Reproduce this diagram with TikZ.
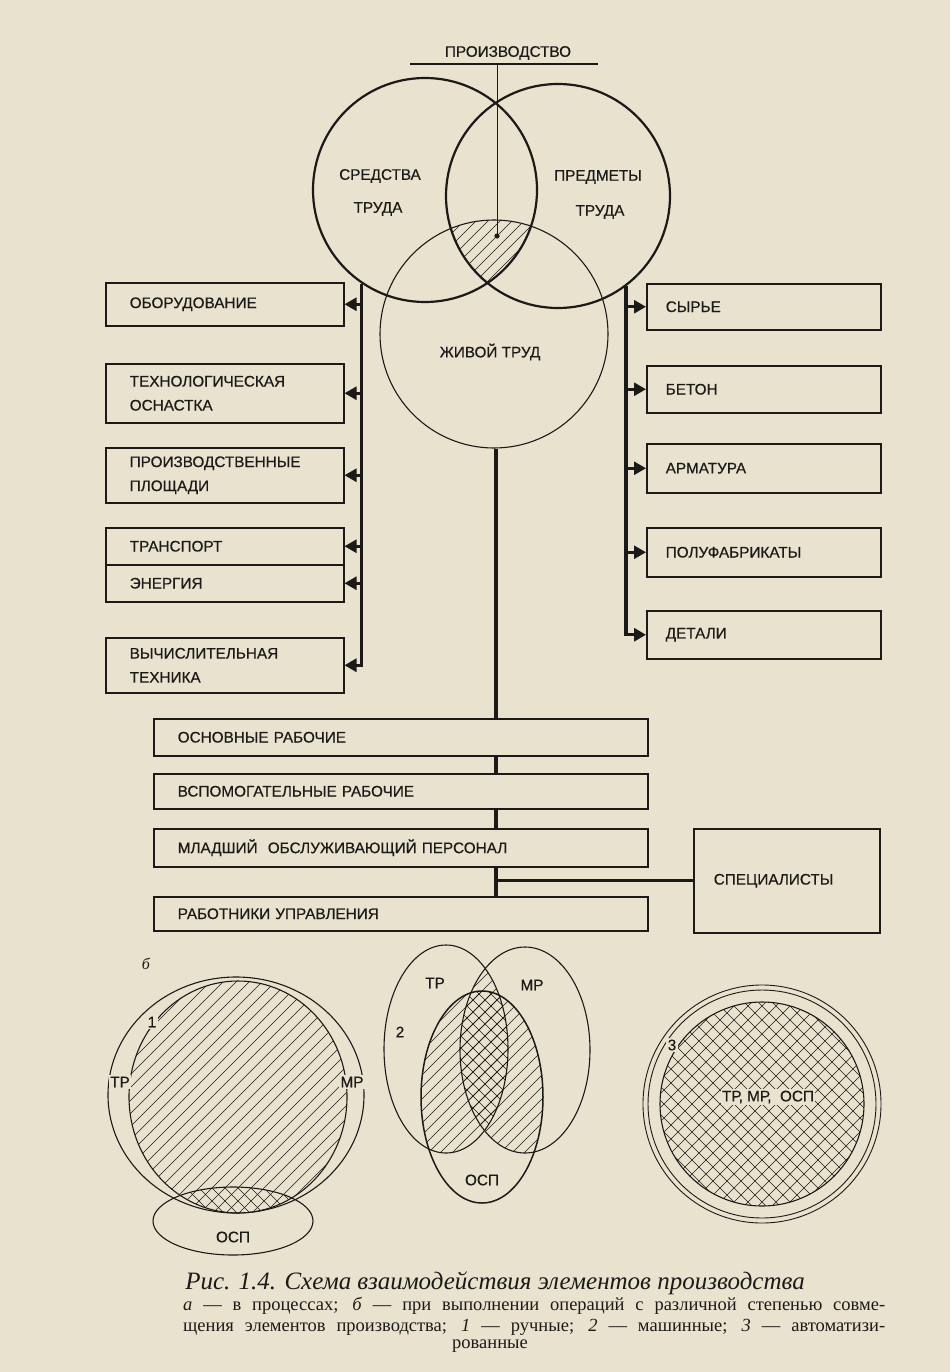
\documentclass[tikz,border=0pt]{standalone}
\usepackage{fontspec}
\setmainfont{Liberation Serif}
\newfontfamily\labfont{Liberation Sans}[FakeBold=0.5]
\usetikzlibrary{arrows.meta,calc}
\definecolor{paper}{RGB}{233,226,207}
\definecolor{ink}{RGB}{28,26,24}
\newcommand\hatchNE[3]{\foreach \k in {-32,...,32}{\draw[hatch] ({#1+\k*#3-260},{#2+260}) -- ++(520,-520);}}
\newcommand\hatchNW[3]{\foreach \k in {-32,...,32}{\draw[hatch] ({#1+\k*#3-260},{#2-260}) -- ++(520,520);}}
\begin{document}
\begin{tikzpicture}[x=1pt,y=-1pt,
  lbl/.style={font=\labfont\fontsize{15.3}{24}\selectfont, text=ink, inner sep=1pt},
  gap/.style={lbl, fill=paper, inner sep=1.5pt},
  bx/.style={draw=ink, line width=1.5pt, anchor=north west, align=left, font=\labfont\fontsize{15.3}{24}\selectfont, text=ink, inner ysep=0pt},
  lb/.style={bx, minimum width=238pt, text width=190pt, inner xsep=24pt},
  rb/.style={bx, minimum width=234pt, text width=196pt, inner xsep=19pt},
  wb/.style={bx, minimum width=494pt, text width=446pt, inner xsep=24pt},
  bus/.style={draw=ink, line width=3.4pt},
  arr/.style={draw=ink, line width=2.6pt, -{Triangle[length=12pt,width=13pt]}},
  conn/.style={draw=ink, line width=3.2pt},
  thickcirc/.style={circle, draw=ink, line width=2.2pt, inner sep=0pt},
  thincirc/.style={circle, draw=ink, line width=1.1pt, inner sep=0pt},
  fig/.style={draw=ink, line width=1.1pt},
  hatch/.style={draw=ink, line width=0.6pt},
  capline/.style={text=ink, inner sep=0pt}
  ]
\fill[paper] (0,0) rectangle (950,1372);
\useasboundingbox (0,0) rectangle (950,1372);

% ---------- top: three circles ----------
\begin{scope}
  \clip (425,190) circle [radius=112pt];
  \clip (558,196) circle [radius=112pt];
  \clip (494,334) circle [radius=114pt];
  \hatchNE{495}{250}{12}
\end{scope}
\node[thickcirc, minimum size=224pt] (C1) at (425,190) {};
\node[thickcirc, minimum size=224pt] (C2) at (558,196) {};
\node[thincirc, minimum size=228pt] (C3) at (494,334) {};

\node[lbl] (prod) at (508,53) {ПРОИЗВОДСТВО};
\coordinate (pl1) at (410,64);
\coordinate (pl2) at (598,64);
\draw[ink, line width=1.4pt] (pl1) -- (pl2);
\coordinate (pdot) at (497,236);
\draw[ink, line width=1pt] (pdot |- pl1) -- (pdot);
\fill[ink] (pdot) circle [radius=2.6pt];

\node[lbl] (sr1) at (380,176) {СРЕДСТВА};
\node[lbl] (sr2) at (378,209) {ТРУДА};
\node[lbl] (pr1) at (598,177) {ПРЕДМЕТЫ};
\node[lbl] (pr2) at (600,212) {ТРУДА};
\node[lbl] (zt) at (490,352) {ЖИВОЙ ТРУД};

% ---------- left boxes ----------
\node[lb, minimum height=43pt] (ob) at (105,282) {ОБОРУДОВАНИЕ};
\node[lb, minimum height=59pt] (tech) at (105,363) {ТЕХНОЛОГИЧЕСКАЯ\\ОСНАСТКА};
\node[lb, minimum height=55pt] (pls) at (105,447) {ПРОИЗВОДСТВЕННЫЕ\\ПЛОЩАДИ};
\node[lb, minimum height=37pt] (trn) at (105,527) {ТРАНСПОРТ};
\node[lb, minimum height=37pt] (en) at (105,564) {ЭНЕРГИЯ};
\node[lb, minimum height=55pt] (vt) at (105,637) {ВЫЧИСЛИТЕЛЬНАЯ\\ТЕХНИКА};

\draw[bus, -{Triangle[length=12pt,width=13pt]}] (C1.236) -- (C1.236 |- vt.east) -- (vt.east);
\foreach \b in {ob,tech,pls,trn,en}{\draw[arr] (C1.236 |- \b.east) -- (\b.east);}

% ---------- right boxes ----------
\node[rb, minimum height=46pt] (sy) at (646,283) {СЫРЬЕ};
\node[rb, minimum height=47pt] (be) at (646,365) {БЕТОН};
\node[rb, minimum height=49pt] (ar) at (646,443) {АРМАТУРА};
\node[rb, minimum height=49pt] (pf) at (646,527) {ПОЛУФАБРИКАТЫ};
\node[rb, minimum height=48pt] (de) at (646,610) {ДЕТАЛИ};

\draw[bus, -{Triangle[length=12pt,width=13pt]}] (C2.307) -- (C2.307 |- de.west) -- (de.west);
\foreach \b in {sy,be,ar,pf}{\draw[arr] (C2.307 |- \b.west) -- (\b.west);}

% ---------- lower boxes ----------
\node[wb, minimum height=37pt] (osn) at (153,718) {ОСНОВНЫЕ РАБОЧИЕ};
\node[wb, minimum height=35pt] (vsp) at (153,773) {ВСПОМОГАТЕЛЬНЫЕ РАБОЧИЕ};
\node[wb, minimum height=38pt] (mls) at (153,828) {МЛАДШИЙ\ \ ОБСЛУЖИВАЮЩИЙ ПЕРСОНАЛ};
\node[wb, minimum height=34pt] (rab) at (153,896) {РАБОТНИКИ УПРАВЛЕНИЯ};
\node[bx, minimum width=186pt, minimum height=104pt, text width=146pt, inner xsep=20pt] (spec) at (693,828) {СПЕЦИАЛИСТЫ};

\coordinate (mx) at (496,0);
\draw[conn] (C3.south -| mx) -- (osn.north -| mx);
\draw[conn] (osn.south -| mx) -- (vsp.north -| mx);
\draw[conn] (vsp.south -| mx) -- (mls.north -| mx);
\draw[conn] (mls.south -| mx) -- (rab.north -| mx);
\draw[conn] (spec.west -| mx) -- (spec.west);

% ---------- figure 1 ----------
\node[capline, font=\fontsize{16}{18}\selectfont\itshape] (blab) at (146,964) {б};
\begin{scope}
  \clip (238,1097) ellipse [x radius=109pt, y radius=116pt];
  \hatchNE{238}{1097}{13}
  \clip (233,1221) ellipse [x radius=80pt, y radius=34pt];
  \hatchNW{238}{1097}{13}
\end{scope}
\draw[fig] (236,1095) ellipse [x radius=128pt, y radius=118pt];
\draw[fig] (238,1097) ellipse [x radius=109pt, y radius=116pt];
\draw[fig] (233,1221) ellipse [x radius=80pt, y radius=34pt];
\node[gap] (f1tr) at (120,1082) {ТР};
\node[gap] (f1mr) at (352,1082) {МР};
\node[gap] (f1n) at (152,1022) {1};
\node[lbl] (f1o) at (233,1237) {ОСП};

% ---------- figure 2 ----------
\begin{scope}
  \clip (446,1049) ellipse [x radius=62pt, y radius=104pt];
  \clip (525,1050) ellipse [x radius=65pt, y radius=103pt];
  \hatchNE{485}{1060}{12}
\end{scope}
\begin{scope}
  \clip (446,1049) ellipse [x radius=62pt, y radius=104pt];
  \clip (482,1097) ellipse [x radius=61pt, y radius=106pt];
  \hatchNE{485}{1060}{12}
\end{scope}
\begin{scope}
  \clip (525,1050) ellipse [x radius=65pt, y radius=103pt];
  \clip (482,1097) ellipse [x radius=61pt, y radius=106pt];
  \hatchNE{485}{1060}{12}
  \clip (446,1049) ellipse [x radius=62pt, y radius=104pt];
  \hatchNW{485}{1060}{12}
\end{scope}
\draw[fig] (446,1049) ellipse [x radius=62pt, y radius=104pt];
\draw[fig] (525,1050) ellipse [x radius=65pt, y radius=103pt];
\draw[fig, line width=1.5pt] (482,1097) ellipse [x radius=61pt, y radius=106pt];
\node[lbl] (f2tr) at (435,983) {ТР};
\node[lbl] (f2mr) at (532,985) {МР};
\node[lbl] (f2n) at (400,1032) {2};
\node[lbl] (f2o) at (482,1180) {ОСП};

% ---------- figure 3 ----------
\begin{scope}
  \clip (762,1104) circle [radius=102pt];
  \hatchNE{762}{1104}{14}
  \hatchNW{762}{1104}{14}
\end{scope}
\draw[fig, line width=0.9pt] (762,1104) circle [radius=119pt];
\draw[fig, line width=0.9pt] (762,1104) circle [radius=114pt];
\draw[fig] (762,1104) circle [radius=102pt];
\node[gap] (f3n) at (672,1045) {3};
\node[gap] (f3t) at (768,1097) {ТР, МР,\ \ ОСП};

% ---------- caption ----------
\node[capline, font=\fontsize{25}{28}\selectfont\itshape] (cap1) at (495,1283) {Рис. 1.4. Схема взаимодействия элементов производства};
\node[capline, anchor=west, font=\fontsize{18.5}{20}\selectfont] (cap2) at (183,1306) {\makebox[702pt][s]{\textit{а}~— в процессах; \textit{б}~— при выполнении операций с различной степенью совме-}};
\node[capline, anchor=west, font=\fontsize{18.5}{20}\selectfont] (cap3) at (183,1327) {\makebox[702pt][s]{щения элементов производства; \textit{1}~— ручные; \textit{2}~— машинные; \textit{3}~— автоматизи-}};
\node[capline, font=\fontsize{18.5}{20}\selectfont] (cap4) at (490,1346) {рованные};
\end{tikzpicture}
\end{document}
